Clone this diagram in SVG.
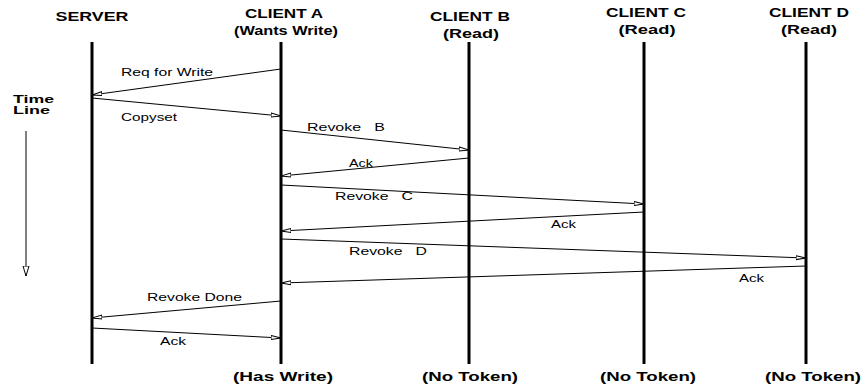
<svg xmlns="http://www.w3.org/2000/svg" width="865" height="388" viewBox="0 0 865 388">
  <style>
    text { font-family: "Liberation Sans", Arial, sans-serif; fill: #000; white-space: pre; }
    .head { font-size: 12px; font-weight: bold; text-anchor: middle; }
    .side { font-size: 11px; font-weight: bold; }
    .lbl { font-size: 11px; }
    .life { stroke: #000; stroke-width: 3; }
    .msg { stroke: #000; stroke-width: 1; fill: none; marker-end: url(#tip); }
  </style>
  <defs>
    <!-- small hollow head used by every message -->
    <marker id="tip" viewBox="0 0 10 6" refX="10" refY="3" markerWidth="10" markerHeight="6" markerUnits="userSpaceOnUse" orient="auto">
      <path d="M0,1 L10,3 L0,5 Z" fill="#fff" stroke="#000" stroke-width="1"/>
    </marker>
    <!-- open head for the time axis -->
    <marker id="axis" viewBox="0 0 10 8" refX="10" refY="4" markerWidth="10" markerHeight="8" markerUnits="userSpaceOnUse" orient="auto">
      <path d="M0,1 L10,4 L0,7 Z" fill="#fff" stroke="#000" stroke-width="1"/>
    </marker>
  </defs>

  <rect width="865" height="388" fill="#fff"/>

  <g id="server">
    <text class="head" x="92" y="21" textLength="73" lengthAdjust="spacingAndGlyphs">SERVER</text>
    <line class="life" x1="92" y1="42" x2="92" y2="364"/>
  </g>
  <g id="client-a">
    <text class="head" x="284" y="18" textLength="78" lengthAdjust="spacingAndGlyphs">CLIENT A</text>
    <text class="head" x="286" y="35" textLength="104" lengthAdjust="spacingAndGlyphs">(Wants Write)</text>
    <line class="life" x1="281" y1="42" x2="281" y2="364"/>
    <text class="head" x="283" y="381" textLength="100" lengthAdjust="spacingAndGlyphs">(Has Write)</text>
  </g>
  <g id="client-b">
    <text class="head" x="470" y="21" textLength="80" lengthAdjust="spacingAndGlyphs">CLIENT B</text>
    <text class="head" x="471" y="38" textLength="56" lengthAdjust="spacingAndGlyphs">(Read)</text>
    <line class="life" x1="469" y1="42" x2="469" y2="364"/>
    <text class="head" x="470" y="381" textLength="96" lengthAdjust="spacingAndGlyphs">(No Token)</text>
  </g>
  <g id="client-c">
    <text class="head" x="646" y="17" textLength="80" lengthAdjust="spacingAndGlyphs">CLIENT C</text>
    <text class="head" x="647" y="34" textLength="57" lengthAdjust="spacingAndGlyphs">(Read)</text>
    <line class="life" x1="644" y1="42" x2="644" y2="364"/>
    <text class="head" x="648" y="381" textLength="96" lengthAdjust="spacingAndGlyphs">(No Token)</text>
  </g>
  <g id="client-d">
    <text class="head" x="809" y="17" textLength="80" lengthAdjust="spacingAndGlyphs">CLIENT D</text>
    <text class="head" x="809" y="34" textLength="56" lengthAdjust="spacingAndGlyphs">(Read)</text>
    <line class="life" x1="806" y1="42" x2="806" y2="364"/>
    <text class="head" x="813" y="381" textLength="96" lengthAdjust="spacingAndGlyphs">(No Token)</text>
  </g>

  <g id="timeline">
    <text class="side" x="13" y="103" textLength="41" lengthAdjust="spacingAndGlyphs">Time</text>
    <text class="side" x="13" y="114" textLength="37" lengthAdjust="spacingAndGlyphs">Line</text>
    <line x1="26" y1="131" x2="26" y2="276" stroke="#000" stroke-width="1" marker-end="url(#axis)"/>
  </g>

  <g id="connectors">
    <line class="msg" x1="281" y1="69" x2="92" y2="95"/>
    <line class="msg" x1="92" y1="98" x2="281" y2="116"/>
    <line class="msg" x1="281" y1="130" x2="469" y2="150"/>
    <line class="msg" x1="469" y1="158" x2="281" y2="176"/>
    <line class="msg" x1="281" y1="185" x2="644" y2="204"/>
    <line class="msg" x1="644" y1="212" x2="281" y2="231"/>
    <line class="msg" x1="281" y1="239" x2="806" y2="258"/>
    <line class="msg" x1="806" y1="266" x2="281" y2="283"/>
    <line class="msg" x1="281" y1="301" x2="92" y2="318"/>
    <line class="msg" x1="92" y1="328" x2="281" y2="338"/>
  </g>

  <g id="labels">
    <text class="lbl" x="121" y="76" textLength="92" lengthAdjust="spacingAndGlyphs">Req for Write</text>
    <text class="lbl" x="121" y="121" textLength="56" lengthAdjust="spacingAndGlyphs">Copyset</text>
    <text class="lbl" x="307" y="131" textLength="78" lengthAdjust="spacingAndGlyphs">Revoke   B</text>
    <text class="lbl" x="349" y="167" textLength="24" lengthAdjust="spacingAndGlyphs">Ack</text>
    <text class="lbl" x="335" y="200" textLength="78" lengthAdjust="spacingAndGlyphs">Revoke   C</text>
    <text class="lbl" x="551" y="228" textLength="25" lengthAdjust="spacingAndGlyphs">Ack</text>
    <text class="lbl" x="349" y="255" textLength="78" lengthAdjust="spacingAndGlyphs">Revoke   D</text>
    <text class="lbl" x="739" y="282" textLength="25" lengthAdjust="spacingAndGlyphs">Ack</text>
    <text class="lbl" x="147" y="301" textLength="95" lengthAdjust="spacingAndGlyphs">Revoke Done</text>
    <text class="lbl" x="160" y="345" textLength="26" lengthAdjust="spacingAndGlyphs">Ack</text>
  </g>
</svg>
